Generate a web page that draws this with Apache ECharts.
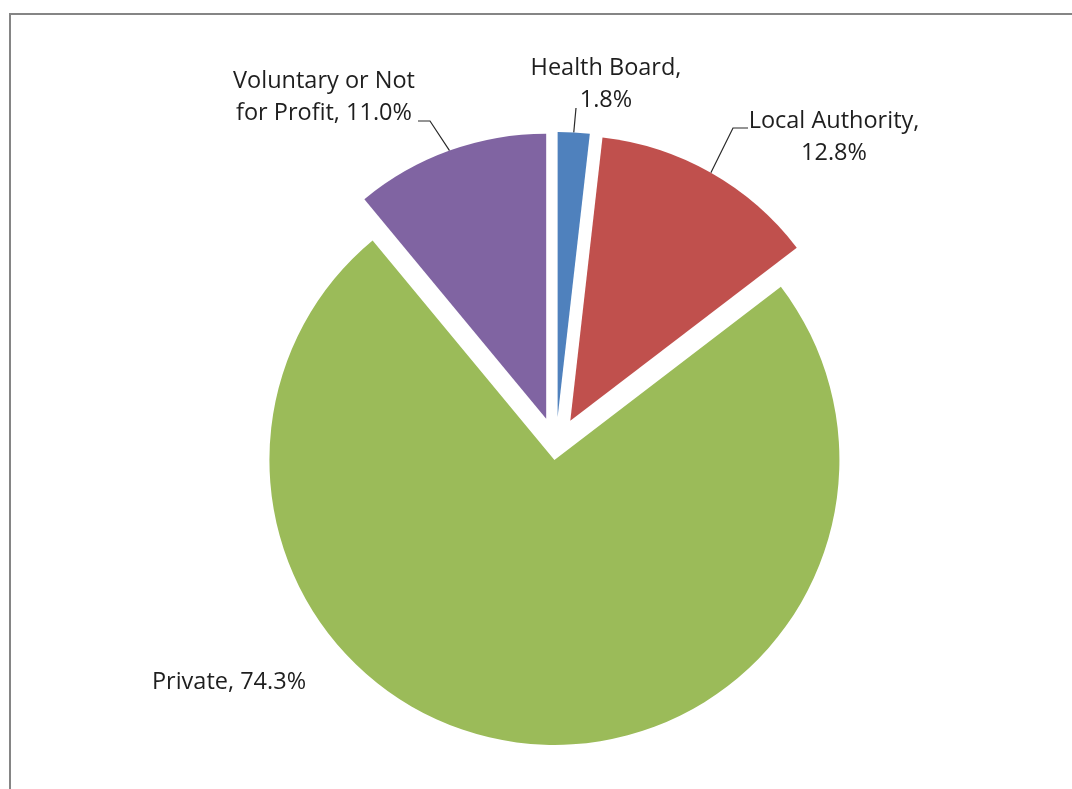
<!DOCTYPE html>
<html>
<head>
<meta charset="utf-8">
<script src="https://cdn.jsdelivr.net/npm/echarts@6/dist/echarts.min.js"></script>
<style>
  html, body { margin: 0; padding: 0; background: #fff; }
  #chart { width: 1072px; height: 789px; }
</style>
</head>
<body>
<div id="chart"></div>
<script>
// Share of places by provider type (%)
const categories = ['Health Board', 'Local Authority', 'Private', 'Voluntary or Not\nfor Profit'];
const shares = [1.8, 12.8, 74.3, 11.0];
const labelJoin = [',\n', ',\n', ', ', ', '];

// Styling
const colors = ['#4F81BD', '#C0504D', '#9BBB59', '#8064A2'];
const explode = [29, 29, 14, 29];      // px each slice is pulled out from the centre
const pieCenter = [556, 446];
const pieRadius = 285;
const font = { fontFamily: 'Open Sans', fontSize: 23.5, lineHeight: 32, color: '#1e1e1e' };

// Label anchors (block centre) and the bends of their leader lines
const labelPlacement = [
  { x: 606, y: 84,  line: [[576, 108]] },
  { x: 834, y: 137, line: [[733, 128], [748, 128]] },
  { x: 229, y: 682, line: null },
  { x: 324, y: 97,  line: [[430, 121], [418, 121]] }
];

const total = shares.reduce((a, b) => a + b, 0);
let cum = 0;
const series = shares.map((v, i) => {
  const a0 = cum / total * 360;
  cum += v;
  const a1 = cum / total * 360;
  const mid = (a0 + a1) / 2 * Math.PI / 180;
  const center = [
    pieCenter[0] + explode[i] * Math.sin(mid),
    pieCenter[1] - explode[i] * Math.cos(mid)
  ];
  const place = labelPlacement[i];
  return {
    type: 'pie',
    name: categories[i],
    center: center,
    radius: pieRadius,
    startAngle: 90 - a0,
    endAngle: 90 - a1,
    clockwise: true,
    silent: true,
    animation: false,
    itemStyle: { color: colors[i], borderWidth: 0 },
    label: Object.assign({
      show: true,
      position: 'outside',
      align: 'center',
      formatter: (p) => categories[i] + labelJoin[i] + p.value.toFixed(1) + '%'
    }, font),
    labelLine: {
      show: !!place.line,
      smooth: false,
      lineStyle: { color: '#2a2a2a', width: 1.2 }
    },
    labelLayout: (params) => {
      const out = { x: place.x, y: place.y, align: 'center', verticalAlign: 'middle' };
      if (place.line && params.labelLinePoints) {
        out.labelLinePoints = [params.labelLinePoints[0]].concat(place.line);
      }
      return out;
    },
    emphasis: { disabled: true },
    data: [{ name: categories[i], value: v }]
  };
});

const chart = echarts.init(document.getElementById('chart'), null, { renderer: 'canvas' });
chart.setOption({
  backgroundColor: '#fff',
  animation: false,
  graphic: [{
    type: 'rect',
    silent: true,
    z: -1,
    shape: { x: 10, y: 14, width: 1200, height: 900 },
    style: { fill: 'none', stroke: '#858585', lineWidth: 2 }
  }],
  series: series
});
</script>
</body>
</html>
